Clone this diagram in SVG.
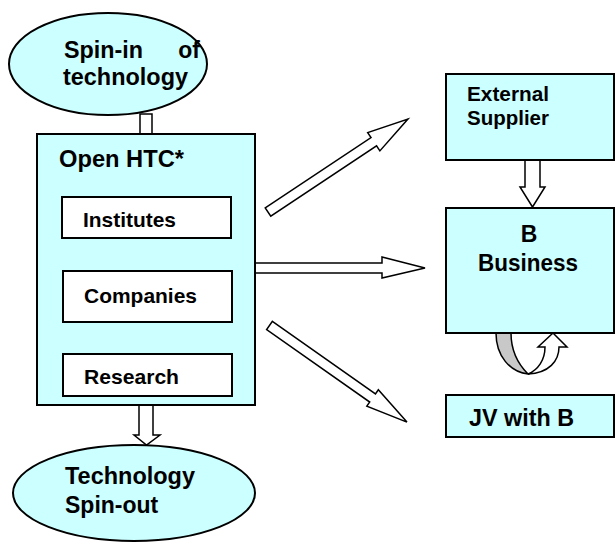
<svg xmlns="http://www.w3.org/2000/svg" width="615" height="545" viewBox="0 0 615 545">
  <style>
    .node { fill: #ccffff; stroke: #000; stroke-width: 2; }
    .inner { fill: #fff; stroke: #000; stroke-width: 2; }
    .arrow { fill: #fff; stroke: #000; stroke-width: 1.5; stroke-linejoin: miter; }
    .shade { fill: #c8c8c8; stroke: #000; stroke-width: 1.5; }
    text { font-family: "Liberation Sans", Arial, sans-serif; font-weight: bold; fill: #000; }
    .big { font-size: 23px; }
    .mid { font-size: 21px; }
  </style>
  <rect width="615" height="545" fill="#fff"/>

  <!-- connectors -->
  <g id="connectors">
    <!-- spin-in down into the HTC -->
    <polygon class="arrow" points="140,114 152,114 152,136 157,136 146,143 135,136 140,136"/>
    <!-- HTC down to spin-out -->
    <polygon class="arrow" points="139,405 153,405 153,435 160,435 146.5,445 134,435 139,435"/>
    <!-- HTC to external supplier -->
    <polygon class="arrow" transform="translate(268,212) rotate(-33.6)" points="0,-5 127,-5 127,-11 168,0 127,11 127,5 0,5"/>
    <!-- HTC to B business -->
    <polygon class="arrow" points="255,263 382,263 382,257 425,268 382,278 382,273 255,273"/>
    <!-- HTC to JV -->
    <polygon class="arrow" transform="translate(269.5,325.5) rotate(35.1)" points="0,-5 126,-5 126,-10 168,0 126,10 126,5 0,5"/>
    <!-- supplier down to B business -->
    <polygon class="arrow" points="525,160 540,160 540,187 545,187 532.5,207 520,187 525,187"/>
    <!-- loop under B business -->
    <path class="shade" d="M496,333 C496,356 510,372 528,374 C518,364 511,350 511,333 Z"/>
    <path class="arrow" d="M528,374 C549,373 559,361 559,347 L567,347 L553,333 L538,347 L545,347 C545,360 538,370 528,374 Z"/>
  </g>

  <g id="spin-in">
    <ellipse class="node" cx="108" cy="64" rx="99" ry="51"/>
    <text class="big" x="64" y="58" textLength="79" lengthAdjust="spacingAndGlyphs">Spin-in</text>
    <text class="big" x="200" y="58" text-anchor="end">of</text>
    <text class="big" x="63" y="85" textLength="125" lengthAdjust="spacingAndGlyphs">technology</text>
  </g>

  <g id="open-htc">
    <rect class="node" x="37" y="134" width="218" height="271"/>
    <text class="big" x="59" y="167" textLength="125" lengthAdjust="spacingAndGlyphs">Open HTC*</text>
  </g>

  <g id="institutes">
    <rect class="inner" x="62" y="197" width="169" height="41"/>
    <text class="mid" x="83" y="227" textLength="93" lengthAdjust="spacingAndGlyphs">Institutes</text>
  </g>

  <g id="companies">
    <rect class="inner" x="63" y="271" width="169" height="51"/>
    <text class="mid" x="84" y="303" textLength="113" lengthAdjust="spacingAndGlyphs">Companies</text>
  </g>

  <g id="research">
    <rect class="inner" x="63" y="354" width="169" height="42"/>
    <text class="mid" x="84" y="384" textLength="95" lengthAdjust="spacingAndGlyphs">Research</text>
  </g>

  <g id="spin-out">
    <ellipse class="node" cx="134" cy="493" rx="121" ry="48"/>
    <text class="big" x="65" y="484" textLength="130" lengthAdjust="spacingAndGlyphs">Technology</text>
    <text class="big" x="65" y="513">Spin-out</text>
  </g>

  <g id="external-supplier">
    <rect class="node" x="446" y="74" width="168" height="86"/>
    <text class="mid" x="467" y="101" textLength="82" lengthAdjust="spacingAndGlyphs">External</text>
    <text class="mid" x="467" y="125" textLength="82" lengthAdjust="spacingAndGlyphs">Supplier</text>
  </g>

  <g id="b-business">
    <rect class="node" x="446" y="208" width="168" height="125"/>
    <text class="big" x="529" y="242" text-anchor="middle">B</text>
    <text class="big" x="528" y="271" text-anchor="middle" textLength="100" lengthAdjust="spacingAndGlyphs">Business</text>
  </g>

  <g id="jv">
    <rect class="node" x="446" y="395" width="168" height="42"/>
    <text class="big" x="469" y="426" textLength="105" lengthAdjust="spacingAndGlyphs">JV with B</text>
  </g>
</svg>
